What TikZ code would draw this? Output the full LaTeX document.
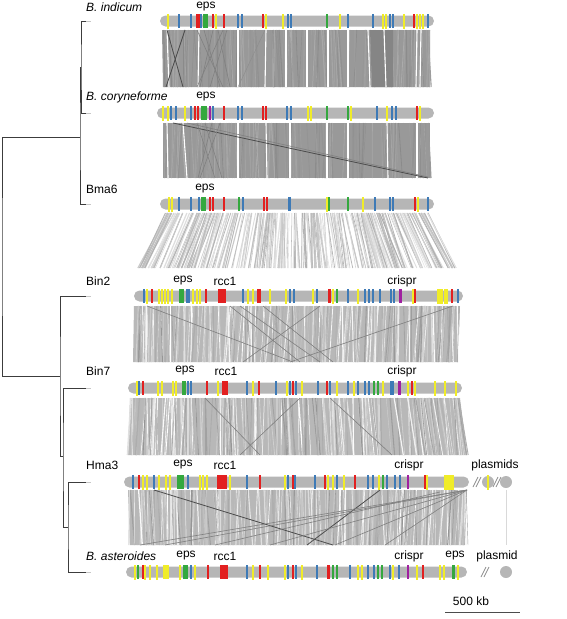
\documentclass[tikz,border=0pt]{standalone}
\usepackage{fontspec}
\setmainfont{Liberation Sans}
\usetikzlibrary{positioning}

\definecolor{cY}{RGB}{240,236,40}
\definecolor{cB}{RGB}{62,122,182}
\definecolor{cR}{RGB}{226,32,32}
\definecolor{cG}{RGB}{52,168,62}
\definecolor{cP}{RGB}{160,32,160}
\definecolor{chrgray}{RGB}{182,182,182}
\definecolor{treegray}{RGB}{60,60,60}

% gene marks on one chromosome: y, thin marks x/colour, wide marks x1/x2/colour
\newcommand{\genes}[3]{%
  \foreach \x/\c in {#2} \path[m\c] (\x-0.8,#1-7) rectangle (\x+0.8,#1+7);
  \foreach \a/\b/\c in {#3} \fill[c\c] (\a,#1-7) rectangle (\b,#1+7);
}
% synteny links between two chromosomes: ytop, ybot, top x-range, bottom x-range, count, shade range
\newcommand{\synlines}[9]{%
  \foreach \i in {1,...,#7}{
    \pgfmathsetmacro\u{rnd}
    \pgfmathsetmacro\xt{#3+\u*(#4-#3)}
    \pgfmathsetmacro\xd{#5+\u*(#6-#5)+(rnd-0.5)*8}
    \pgfmathtruncatemacro\sh{#8+rnd*(#9-#8)}
    \pgfmathsetmacro\lw{0.3+rnd*1.0}
    \draw[line width=\lw pt, black!\sh] (\xt,#1) -- (\xd,#2);
  }
}

\begin{document}
\begin{tikzpicture}[x=1pt,y=-1pt,
    every node/.style={font=\fontsize{12}{14}\selectfont, inner sep=0pt},
    chrom/.style={fill=chrgray, rounded corners=5.5pt},
    mY/.style={draw=cY, line width=0.7pt},
    mB/.style={fill=cB}, mR/.style={fill=cR}, mG/.style={fill=cG}, mP/.style={fill=cP},
    tree/.style={draw=treegray, line width=0.9pt},
    tiptail/.style={draw=black!22, line width=0.9pt},
    species/.style={anchor=west},
    gap/.style={draw=white, line width=1.1pt},
    dark/.style={draw=black!70, line width=0.8pt},
    mid/.style={draw=black!50, line width=0.6pt},
    cut/.style={draw=black!45, line width=0.7pt}
]
\useasboundingbox (0,0) rectangle (567,619);
\pgfmathsetseed{4242}

% synteny: B. indicum -> B. coryneforme
\fill[black!40] (162,30) -- (430,30) -- (430,87) -- (163,87) -- cycle;
\synlines{30}{87}{162}{430}{163}{430}{140}{33}{47}
\fill[black!48] (370,30) -- (393,30) -- (393,87) -- (372,87) -- cycle;
\foreach \a/\b in {167/169,199/198,238/238,266/265,286/286,307/307,328/328,348/348,368/370,384/386,417/416,421/420}
  \draw[gap] (\a,30) -- (\b,87);
\draw[dark] (167,30) -- (183,87);
\draw[dark] (185,30) -- (166,87);
\foreach \a/\b in {197/223,223/197,213/200,204/220,227/210,218/230}
  \draw[mid] (\a,30) -- (\b,87);
\draw[black!45, line width=0.4pt] (265,30) -- (238,87);

% synteny: B. coryneforme -> Bma6
\fill[black!40] (163,123) -- (430,123) -- (430,178) -- (163,178) -- cycle;
\synlines{123}{178}{163}{430}{163}{430}{140}{33}{47}
\foreach \a/\b in {167/168,183/187,238/238,266/267,290/290,327/327,348/348,387/388,417/417}
  \draw[gap] (\a,123) -- (\b,178);
\draw[dark] (173,123) -- (428,178);
\draw[mid] (187,123) -- (428,177);
\foreach \a/\b in {197/215,220/200,205/222,212/198}
  \draw[mid] (\a,123) -- (\b,178);

% synteny: Bma6 -> Bin2
\synlines{213}{268}{165}{430}{136}{460}{300}{10}{32}

% synteny: Bin2 -> Bin7
\fill[black!28] (134,306) -- (460,306) -- (458,362) -- (133,362) -- cycle;
\synlines{306}{362}{134}{460}{133}{458}{260}{0}{42}
\foreach \a/\b in {147/293,240/320,453/290,263/333,320/243,230/300}
  \draw[mid] (\a,306) -- (\b,362);

% synteny: Bin7 -> Hma3
\fill[black!28] (130,398) -- (460,398) -- (467,455) -- (128,455) -- cycle;
\synlines{398}{455}{130}{460}{128}{467}{260}{0}{42}
\foreach \a/\b in {205/260,300/240,330/392}
  \draw[mid] (\a,398) -- (\b,455);

% synteny: Hma3 -> B. asteroides
\fill[black!28] (128,490) -- (467,490) -- (465,545) -- (130,545) -- cycle;
\synlines{490}{545}{128}{467}{130}{465}{260}{0}{42}
\draw[dark] (154,490) -- (333,545);
\draw[dark] (380,490) -- (307,545);
\foreach \b in {140,165,270,335,385}
  \draw[mid] (467,490) -- (\b,545);
\draw[mid] (440,492) -- (215,545);
\draw[black!15, line width=0.6pt] (506,490) -- (506,545);

% chromosomes
\fill[chrom] (160,15.5) rectangle (434,26.5);
\fill[chrom] (157,107.5) rectangle (434,118.5);
\fill[chrom] (160,198.5) rectangle (434,209.5);
\fill[chrom] (134,290.5) rectangle (463,301.5);
\fill[chrom] (128,382.5) rectangle (462,393.5);
\fill[chrom] (124,476.5) rectangle (469,487.5);
\fill[chrom] (126,566.5) rectangle (467,577.5);

% plasmids
\fill[chrgray] (488,482) circle[radius=6pt];
\fill[chrgray] (506,482) circle[radius=6pt];
\fill[chrgray] (506,572) circle[radius=6pt];
\path[mY] (487.2,475) rectangle (488.8,489);
\foreach \s in {473,476,493,496} \draw[cut] (\s,487) -- (\s+5,477);
\foreach \s in {481,484} \draw[cut] (\s,577) -- (\s+5,567);

% genes
\genes{21}{168/Y,179/B,191/B,197/R,199/R,201/B,213/R,216/Y,224/R,238/B,242/B,263/R,266/Y,283/Y,288/B,291/B,327/G,340/Y,348/B,373/B,383/Y,386/Y,390/B,393/B,404/Y,414/R,417/Y,420/Y,423/Y,428/B}{203/208/G}
\genes{113}{163/Y,168/Y,171/B,176/B,185/Y,191/B,195/R,198/R,210/P,213/B,224/R,238/B,242/B,263/R,266/R,287/B,291/B,308/Y,311/Y,327/G,348/G,351/Y,377/B,387/Y,392/B,396/B,417/R,420/Y}{201/207/G}
\genes{204}{169/Y,172/Y,179/B,191/B,199/B,210/R,213/R,224/R,239/G,243/B,264/R,267/R,327/Y,329/G,348/G,363/Y,375/B,390/B,393/B,415/R,418/Y,428/B}{201/206/G,288/291/B}
\genes{296}{144/B,147/Y,152/R,159/Y,162/Y,165/Y,168/Y,172/Y,187/B,189/B,193/Y,197/Y,200/Y,206/R,243/B,248/Y,253/Y,258/R,260/R,270/Y,286/Y,290/B,294/B,313/Y,317/B,333/Y,337/G,348/B,358/Y,365/B,369/B,373/B,380/B,391/B,394/B,413/Y,415/R,438/Y,440/Y,442/Y,445/Y,447/Y,452/R,458/B}{179/184/G,218/226/R,328/331/R,399/402/P}
\genes{388}{137/Y,139/B,143/R,158/Y,162/Y,173/Y,176/Y,188/B,191/B,207/R,218/Y,247/B,253/Y,259/R,276/B,287/Y,290/B,293/R,296/B,302/Y,318/B,327/R,330/B,337/Y,348/B,354/Y,358/B,365/B,369/B,374/G,378/G,383/Y,391/B,393/B,408/Y,412/R,415/Y,435/Y,445/Y,456/Y}{182/186/G,222/228/R,398/401/P}
\genes{482}{133/B,139/R,143/Y,147/Y,154/B,159/Y,166/Y,170/Y,188/B,200/Y,203/Y,207/Y,230/Y,247/B,260/R,285/Y,288/B,293/R,295/B,315/B,325/R,328/Y,333/Y,337/B,344/Y,355/R,368/B,373/B,379/Y,383/G,387/B,395/B,400/B,425/R,427/Y,445/Y,447/Y,449/Y,451/Y,453/Y}{177/184/G,217/227/R,407/409/P}
\genes{572}{135/Y,138/G,143/R,145/Y,150/Y,157/Y,180/Y,191/B,195/Y,208/R,247/B,253/Y,260/R,268/Y,285/Y,288/B,293/R,296/B,302/Y,317/B,333/G,337/G,350/B,358/Y,362/Y,368/B,374/B,378/G,382/G,390/B,393/Y,399/B,417/Y,423/R,440/Y,444/Y,458/Y}{163/169/Y,183/188/G,220/228/R,327/330/R,407/409/P,452/455/G}

% tree
\coordinate (t1) at (86,21);
\coordinate (t2) at (86,113);
\coordinate (t3) at (86,204);
\coordinate (t4) at (86,296);
\coordinate (t5) at (86,388);
\coordinate (t6) at (86,482);
\coordinate (t7) at (86,572);
\coordinate (nA) at (81,67);
\coordinate (nB) at (80,137);
\coordinate (nC) at (68,527);
\coordinate (nD) at (63,456);
\coordinate (nE) at (60,376);
\coordinate (root) at (2,257);
\draw[tree] (t1) -| (nA) |- (t2);
\draw[tree] (nA) -| (nB) |- (t3);
\draw[tree] (t6) -| (nC) |- (t7);
\draw[tree] (t5) -| (nD) |- (nC);
\draw[tree] (t4) -| (nE) |- (nD);
\draw[tree] (nB) -| (root) |- (nE);
\foreach \t in {t1,t2,t3,t4,t5,t6,t7} \draw[tiptail] (\t) -- ++(5,0);

% labels
\node[species] (indicum) at (86,7) {\textit{B. indicum}};
\node[species] (coryne) at (86,97) {\textit{B. coryneforme}};
\node[species] (bma6) at (86,189) {Bma6};
\node[species] (bin2) at (86,281) {Bin2};
\node[species] (bin7) at (86,371) {Bin7};
\node[species] (hma3) at (86,465) {Hma3};
\node[species] (aster) at (86,556) {\textit{B. asteroides}};

\node (eps1) at (206,7) {eps};
\node (eps2) at (206,97) {eps};
\node (eps3) at (205,189) {eps};
\node (eps4) at (183,281) {eps};
\node (rcc4) at (225,281) {rcc1};
\node (cri4) at (402,281) {crispr};
\node (eps5) at (185,371) {eps};
\node (rcc5) at (226,371) {rcc1};
\node (cri5) at (402,371) {crispr};
\node (eps6) at (183,465) {eps};
\node (rcc6) at (225,465) {rcc1};
\node (cri6) at (409,465) {crispr};
\node (pla6) at (495,465) {plasmids};
\node (eps7) at (186,556) {eps};
\node (rcc7) at (225,556) {rcc1};
\node (cri7) at (409,556) {crispr};
\node (eps8) at (455,556) {eps};
\node (pla7) at (497,556) {plasmid};

% scale bar
\node (scale) at (471,601) {500 kb};
\coordinate (sbl) at (445,612);
\coordinate (sbr) at (520,612);
\draw[black!70, line width=0.9pt] (sbl) -- (sbr);

\end{tikzpicture}
\end{document}
